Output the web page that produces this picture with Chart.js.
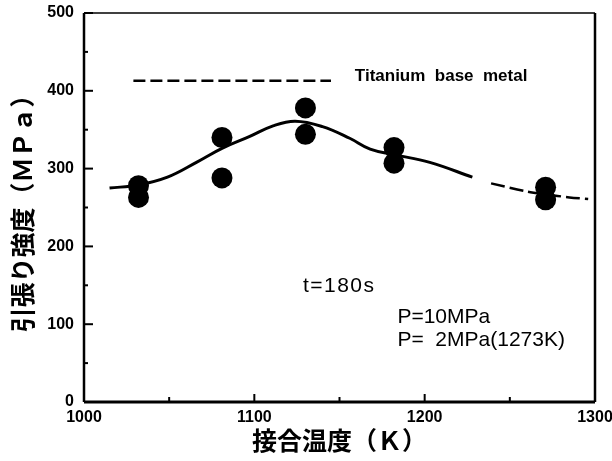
<!DOCTYPE html>
<html>
<head>
<meta charset="utf-8">
<script src="https://cdn.jsdelivr.net/npm/chart.js@4.4.1/dist/chart.umd.min.js"></script>
<style>
html,body{margin:0;padding:0;background:#fff;}
#wrap{width:612px;height:461px;}
</style>
</head>
<body>
<div id="wrap"><canvas id="c" width="612" height="461"></canvas></div>
<script>
// Measured points (joining temperature K, tensile strength MPa)
const temps = [1032, 1032, 1081, 1081, 1130, 1130, 1182, 1182, 1271, 1271];
const strength = [278, 263, 340, 288, 378, 344, 327, 307, 276, 260];
// Fitted trend curve (solid part)
const curveT = [1015, 1032, 1049, 1066, 1081, 1097, 1111, 1124, 1140, 1156, 1168, 1182, 1203, 1228];
const curveS = [275, 279, 289, 308, 326, 341, 355, 361, 354, 339, 325, 318, 308, 289];
// Trend curve (dashed part)
const extrapT = [1239, 1259, 1271, 1285, 1296];
const extrapS = [281, 271, 267, 263, 261];
// Titanium base metal level
const baseT = [1029, 1145];
const baseS = [413, 413];
// Ticks
const xTicks = [1000, 1100, 1200, 1300];
const yTicks = [0, 100, 200, 300, 400, 500];
const xMinor = [1050, 1150, 1250];
const yMinor = [50, 150, 250, 350, 450];

const toXY = (xs, ys) => xs.map((x, i) => ({x: x, y: ys[i]}));

const framePlugin = {
  id: 'frame',
  afterDatasetsDraw(chart) {
    const {ctx, chartArea: a, scales} = chart;
    const xs = scales.x, ys = scales.y;
    ctx.save();
    ctx.strokeStyle = '#000';
    ctx.lineCap = 'butt';
    // frame
    ctx.lineWidth = 2.5;
    ctx.beginPath(); ctx.moveTo(a.left, a.top); ctx.lineTo(a.left, a.bottom); ctx.stroke();
    ctx.lineWidth = 3;
    ctx.beginPath(); ctx.moveTo(a.left, a.bottom); ctx.lineTo(a.right, a.bottom); ctx.stroke();
    ctx.lineWidth = 1.5;
    ctx.beginPath(); ctx.moveTo(a.left, a.top); ctx.lineTo(a.right, a.top); ctx.stroke();
    ctx.lineWidth = 2.5;
    ctx.beginPath(); ctx.moveTo(a.right, a.top); ctx.lineTo(a.right, a.bottom); ctx.stroke();
    // inward ticks
    ctx.lineWidth = 2;
    yTicks.forEach(v => { const p = ys.getPixelForValue(v); ctx.beginPath(); ctx.moveTo(a.left, p); ctx.lineTo(a.left + 9, p); ctx.stroke(); });
    yMinor.forEach(v => { const p = ys.getPixelForValue(v); ctx.beginPath(); ctx.moveTo(a.left, p); ctx.lineTo(a.left + 4, p); ctx.stroke(); });
    xTicks.forEach(v => { const p = xs.getPixelForValue(v); ctx.beginPath(); ctx.moveTo(p, a.bottom); ctx.lineTo(p, a.bottom - 8); ctx.stroke(); });
    xMinor.forEach(v => { const p = xs.getPixelForValue(v); ctx.beginPath(); ctx.moveTo(p, a.bottom); ctx.lineTo(p, a.bottom - 5); ctx.stroke(); });
    // annotations
    ctx.fillStyle = '#000';
    ctx.textBaseline = 'middle';
    ctx.textAlign = 'left';
    ctx.font = 'bold 17px "Liberation Sans", Arial, sans-serif';
    ctx.fillText('Titanium  base  metal', xs.getPixelForValue(1159), ys.getPixelForValue(419));
    ctx.font = '21px "Liberation Sans", Arial, sans-serif';
    try { ctx.letterSpacing = '1.5px'; } catch (e) {}
    ctx.fillText('t=180s', xs.getPixelForValue(1128.5), ys.getPixelForValue(149));
    try { ctx.letterSpacing = '0px'; } catch (e) {}
    ctx.fillText('P=10MPa', xs.getPixelForValue(1184), ys.getPixelForValue(109));
    ctx.fillText('P=  2MPa(1273K)', xs.getPixelForValue(1184), ys.getPixelForValue(80));
    ctx.restore();
  }
};

const tickFont = {family: '"Liberation Sans", Arial, sans-serif', size: 16, weight: 'bold'};
const titleFont = {family: '"Noto Sans CJK JP", sans-serif', size: 25, weight: 'bold'};

new Chart(document.getElementById('c'), {
  type: 'scatter',
  data: {
    datasets: [
      {data: toXY(curveT, curveS), showLine: true, tension: 0.4, borderColor: '#000', borderWidth: 3, pointRadius: 0, fill: false},
      {data: toXY(extrapT, extrapS), showLine: true, tension: 0.3, borderColor: '#000', borderWidth: 2.5, borderDash: [14, 5], pointRadius: 0, fill: false},
      {data: toXY(baseT, baseS), showLine: true, borderColor: '#000', borderWidth: 2.5, borderDash: [12, 5], pointRadius: 0, fill: false},
      {data: toXY(temps, strength), showLine: false, pointRadius: 10.5, pointBackgroundColor: '#000', pointBorderColor: '#000', pointBorderWidth: 0}
    ]
  },
  options: {
    responsive: false,
    animation: false,
    devicePixelRatio: 1,
    layout: {padding: {left: 0, top: 13, right: 17, bottom: 0}},
    plugins: {legend: {display: false}, tooltip: {enabled: false}},
    scales: {
      x: {
        type: 'linear', min: 1000, max: 1300,
        afterBuildTicks: s => { s.ticks = xTicks.map(v => ({value: v})); },
        afterFit: s => { s.height = 59; s.paddingLeft = 0; s.paddingRight = 0; },
        grid: {display: false, drawTicks: false},
        border: {display: false},
        ticks: {color: '#000', font: tickFont, padding: 6, maxRotation: 0, callback: v => String(v)},
        title: {display: true, text: '接合温度（Ｋ）', color: '#000', font: titleFont, padding: {top: 0, bottom: 6}}
      },
      y: {
        type: 'linear', min: 0, max: 500,
        afterBuildTicks: s => { s.ticks = yTicks.map(v => ({value: v})); },
        afterFit: s => { s.width = 84; s.paddingTop = 0; s.paddingBottom = 0; },
        grid: {display: false, drawTicks: false},
        border: {display: false},
        ticks: {color: '#000', font: tickFont, padding: 10, callback: v => String(v)},
        title: {display: true, text: '引張り強度（ＭＰａ）', color: '#000', font: titleFont, padding: {top: 7, bottom: 0}}
      }
    }
  },
  plugins: [framePlugin]
});
</script>
</body>
</html>
